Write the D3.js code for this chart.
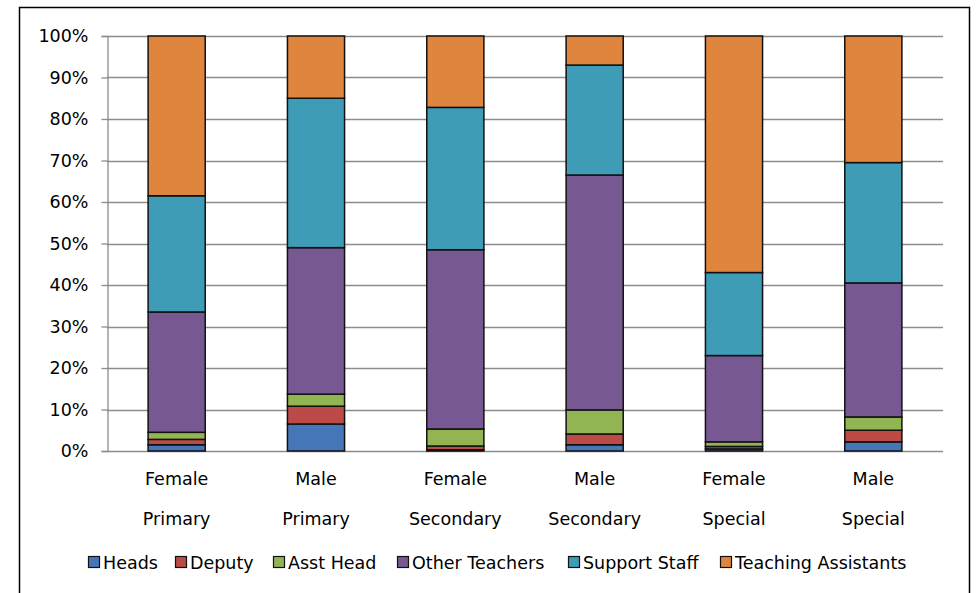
<!DOCTYPE html>
<html><head><meta charset="utf-8">
<script src="https://cdn.jsdelivr.net/npm/d3@7"></script>
<style>body{margin:0;background:#fff}svg{display:block}text{font-family:"DejaVu Sans",sans-serif;fill:#000}</style>
</head><body><svg id="c" width="977" height="593"></svg>
<script>
const categories = [["Female","Primary"],["Male","Primary"],["Female","Secondary"],["Male","Secondary"],["Female","Special"],["Male","Special"]];
const seriesNames = ["Heads","Deputy","Asst Head","Other Teachers","Support Staff","Teaching Assistants"];
const seriesColors = ["#4577B8","#BC4A46","#93B452","#775893","#3F9CB6","#DF853E"];
const heads = [1.5, 6.5, 0.3, 1.5, 0.5, 2.2];
const deputy = [1.3, 4.3, 0.9, 2.6, 0.6, 2.8];
const asstHead = [1.7, 2.9, 4.1, 5.8, 1.1, 3.2];
const otherTeachers = [29.0, 35.3, 43.2, 56.6, 20.8, 32.3];
const supportStaff = [28.0, 36.0, 34.3, 26.5, 20.0, 29.0];
const teachingAssistants = [38.5, 15.0, 17.2, 7.0, 57.0, 30.5];
const yTicks = [0,10,20,30,40,50,60,70,80,90,100];

const FS = 17.5;
const seriesValues = [heads, deputy, asstHead, otherTeachers, supportStaff, teachingAssistants];
const table = categories.map((c,i)=>{const o={key:i};seriesNames.forEach((s,j)=>o[s]=seriesValues[j][i]);return o;});
const stacked = d3.stack().keys(seriesNames).offset(d3.stackOffsetExpand)(table);

const svg = d3.select("#c");
svg.append("rect").attr("x",19.5).attr("y",7.5).attr("width",950).attr("height",600).attr("fill","#fff").attr("stroke","#000").attr("stroke-width",1.5);

const L=107, R=943, T=36, B=451;
const x = d3.scaleBand().domain(d3.range(categories.length)).range([L,R]).paddingInner(0.59).paddingOuter(0.295);
const y = d3.scaleLinear().domain([0,1]).range([B,T]);

// gridlines
svg.append("g").selectAll("line").data(yTicks).join("line")
  .attr("x1",L).attr("x2",R).attr("y1",d=>Math.round(y(d/100))+0.5).attr("y2",d=>Math.round(y(d/100))+0.5)
  .attr("stroke","#8c8c8c").attr("stroke-width",1.3);

// y axis
const yAxis = d3.axisLeft(y).tickValues(yTicks.map(d=>d/100)).tickFormat(d=>Math.round(d*100)+"%").tickSize(6).tickPadding(13);
const ga = svg.append("g").attr("transform",`translate(${L+0.5},0)`).call(yAxis);
ga.attr("font-size",FS).attr("font-family","DejaVu Sans");
ga.select(".domain").attr("stroke","#8c8c8c").attr("stroke-width",1.3);
ga.selectAll(".tick line").attr("stroke","#8c8c8c").attr("stroke-width",1.3);
ga.selectAll(".tick text").attr("font-size",FS).attr("fill","#000");

// bars
svg.append("g").selectAll("g").data(stacked).join("g").attr("fill",(d,i)=>seriesColors[i])
  .selectAll("rect").data(d=>d).join("rect")
  .attr("x",(d,i)=>x(i)).attr("width",x.bandwidth())
  .attr("y",d=>y(d[1])).attr("height",d=>Math.max(0,y(d[0])-y(d[1])))
  .attr("stroke","#111").attr("stroke-width",1.5);

// category labels
const cl = svg.append("g").selectAll("text").data(categories).join("text")
  .attr("x",(d,i)=>x(i)+x.bandwidth()/2).attr("text-anchor","middle").attr("font-size",FS);
cl.append("tspan").attr("x",(d,i)=>x(i)+x.bandwidth()/2).attr("y",485).text(d=>d[0]);
cl.append("tspan").attr("x",(d,i)=>x(i)+x.bandwidth()/2).attr("y",525).text(d=>d[1]);

// legend
const legX = [88,175,273,397,568,720];
const lg = svg.append("g").selectAll("g").data(seriesNames).join("g")
  .attr("transform",(d,i)=>`translate(${legX[i]},556)`);
lg.append("rect").attr("x",0.5).attr("y",0.5).attr("width",11).attr("height",11)
  .attr("fill",(d,i)=>seriesColors[i]).attr("stroke","#111").attr("stroke-width",1.2);
lg.append("text").attr("x",15).attr("y",12.5).attr("font-size",FS).text(d=>d);
</script></body></html>
